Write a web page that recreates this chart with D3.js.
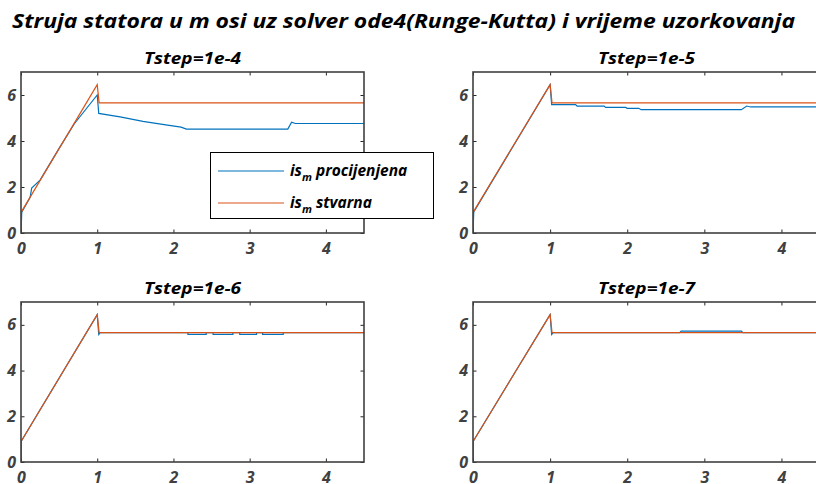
<!DOCTYPE html>
<html><head><meta charset="utf-8">
<script src="https://cdn.jsdelivr.net/npm/d3@7"></script>
<style>
html,body{margin:0;padding:0;background:#fff;}
svg{display:block;}
text{font-family:"Open Sans","Noto Sans",sans-serif;font-weight:700;font-style:italic;}
</style></head>
<body>
<svg id="c" width="816" height="484"></svg>
<script>
// ---------- data ----------
const mainTitle = "Struja statora u m osi uz solver ode4(Runge-Kutta) i vrijeme uzorkovanja";
const panelTitles = ["Tstep=1e-4", "Tstep=1e-5", "Tstep=1e-6", "Tstep=1e-7"];
const xTicks = [0, 1, 2, 3, 4];
const yTicks = [0, 2, 4, 6];
const xDomain = [0, 4.5];
const yDomain = [0, 7];
const legendNames = ["procijenjena", "stvarna"];

// real (stvarna) current – same in all panels
const tReal = [0, 0.005, 1.0, 1.025, 4.5];
const vReal = [0, 0.92, 6.45, 5.66, 5.66];

// estimated (procijenjena) current, Tstep=1e-4
const tEst4 = [0, 0.01, 0.12, 0.14, 0.25, 0.5, 0.7, 1.0, 1.02, 1.3, 1.6, 1.9, 2.1, 2.17, 3.5, 3.55, 3.6, 4.5];
const vEst4 = [0, 0.9, 1.55, 1.95, 2.3, 3.68, 4.75, 6.0, 5.2, 5.05, 4.85, 4.7, 4.6, 4.52, 4.52, 4.82, 4.76, 4.76];
// Tstep=1e-5
const tEst5 = [0, 0.01, 1.0, 1.02, 1.33, 1.35, 1.7, 1.72, 1.98, 2.0, 2.15, 2.18, 3.48, 3.55, 3.6, 4.5];
const vEst5 = [0, 0.92, 6.45, 5.58, 5.58, 5.52, 5.52, 5.46, 5.46, 5.42, 5.42, 5.36, 5.36, 5.52, 5.48, 5.48];
// Tstep=1e-6
const tEst6 = [0, 0.005, 1.0, 1.02, 1.04, 2.19, 2.19, 2.43, 2.43, 2.52, 2.52, 2.78, 2.78, 2.87, 2.87, 3.09, 3.09, 3.17, 3.17, 3.44, 3.44, 4.5];
const vEst6 = [0, 0.92, 6.45, 5.58, 5.66, 5.66, 5.58, 5.58, 5.66, 5.66, 5.58, 5.58, 5.66, 5.66, 5.58, 5.58, 5.66, 5.66, 5.58, 5.58, 5.66, 5.66];
// Tstep=1e-7
const tEst7 = [0, 0.005, 1.0, 1.02, 1.04, 2.68, 2.7, 3.48, 3.5, 4.5];
const vEst7 = [0, 0.92, 6.45, 5.58, 5.66, 5.66, 5.73, 5.73, 5.66, 5.66];

const estT = [tEst4, tEst5, tEst6, tEst7];
const estV = [vEst4, vEst5, vEst6, vEst7];

// ---------- layout ----------
const BLUE = "#0072BD", ORANGE = "#D95319", AX = "#404040";
const panels = [
  {x0: 21, x1: 364, yb: 233, yt: 72},
  {x0: 473, x1: 820, yb: 233, yt: 72},
  {x0: 21, x1: 364, yb: 462, yt: 302},
  {x0: 473, x1: 820, yb: 462, yt: 302}
];
const svg = d3.select("#c");

svg.append("text").attr("x", 12).attr("y", 28)
  .attr("font-size", 20).attr("fill", "#000")
  .attr("textLength", 783).attr("lengthAdjust", "spacingAndGlyphs")
  .text(mainTitle);

panels.forEach((p, i) => {
  const x = d3.scaleLinear().domain(xDomain).range([p.x0, p.x1]);
  const y = d3.scaleLinear().domain(yDomain).range([p.yb, p.yt]);
  const g = svg.append("g");
  const cid = "clip" + i;
  g.append("clipPath").attr("id", cid).append("rect")
    .attr("x", p.x0).attr("y", p.yt).attr("width", p.x1 - p.x0).attr("height", p.yb - p.yt);

  const line = d3.line().x(d => x(d[0])).y(d => y(d[1]));
  const est = d3.zip(estT[i], estV[i]);
  const real = d3.zip(tReal, vReal);
  const lines = g.append("g").attr("clip-path", `url(#${cid})`);
  lines.append("path").datum(est).attr("d", line).attr("fill", "none")
    .attr("stroke", BLUE).attr("stroke-width", 1.2);
  lines.append("path").datum(real).attr("d", line).attr("fill", "none")
    .attr("stroke", ORANGE).attr("stroke-width", 1.2);

  const fontSz = 16;
  const ab = g.append("g").attr("transform", `translate(0,${p.yb})`)
    .call(d3.axisBottom(x).tickValues(xTicks).tickSizeInner(-3.5).tickSizeOuter(0).tickPadding(10).tickFormat(d3.format("d")));
  const at = g.append("g").attr("transform", `translate(0,${p.yt})`)
    .call(d3.axisTop(x).tickValues(xTicks).tickSizeInner(-3.5).tickSizeOuter(0).tickFormat(""));
  const al = g.append("g").attr("transform", `translate(${p.x0},0)`)
    .call(d3.axisLeft(y).tickValues(yTicks).tickSizeInner(-3.5).tickSizeOuter(0).tickPadding(5).tickFormat(d3.format("d")));
  const ar = g.append("g").attr("transform", `translate(${p.x1},0)`)
    .call(d3.axisRight(y).tickValues(yTicks).tickSizeInner(-3.5).tickSizeOuter(0).tickFormat(""));
  [ab, at, al, ar].forEach(a => {
    a.select(".domain").remove();
    a.selectAll("line").attr("stroke", "#262626").attr("stroke-width", 1);
    a.selectAll("text").attr("font-size", fontSz).attr("fill", AX)
      .attr("font-family", null);
  });
  g.append("rect").attr("x", p.x0).attr("y", p.yt)
    .attr("width", p.x1 - p.x0).attr("height", p.yb - p.yt)
    .attr("fill", "none").attr("stroke", AX).attr("stroke-width", 1.6);

  g.append("text").attr("x", (p.x0 + p.x1) / 2).attr("y", p.yt - 8)
    .attr("text-anchor", "middle").attr("font-size", 16).attr("fill", "#000")
    .attr("textLength", 97).attr("lengthAdjust", "spacingAndGlyphs")
    .text(panelTitles[i]);
});

// legend (in first panel)
const lg = svg.append("g");
lg.append("rect").attr("x", 210.5).attr("y", 152.5).attr("width", 223).attr("height", 66)
  .attr("fill", "#fff").attr("stroke", "#000").attr("stroke-width", 1);
[BLUE, ORANGE].forEach((c, k) => {
  const yy = 171 + k * 32;
  lg.append("line").attr("x1", 218).attr("x2", 284).attr("y1", yy).attr("y2", yy)
    .attr("stroke", c).attr("stroke-width", 1.2);
  const t = lg.append("text").attr("x", 290).attr("y", yy + 5).attr("font-size", 15.5).attr("fill", "#000");
  t.append("tspan").text("is");
  t.append("tspan").attr("font-size", 11).attr("dy", 5).text("m");
  t.append("tspan").attr("dy", -5).text("\u00a0" + legendNames[k]);
});
</script>
</body></html>
